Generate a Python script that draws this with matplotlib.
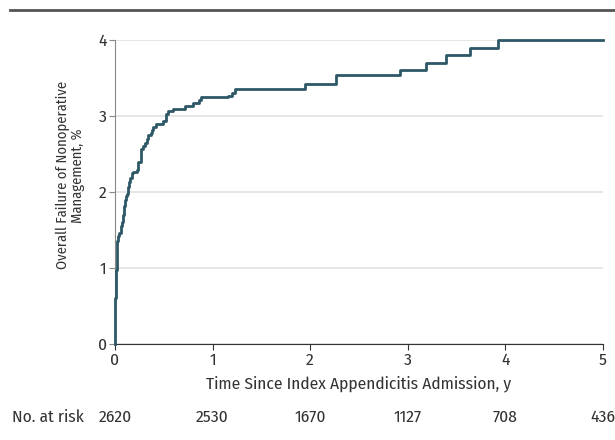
import numpy as np
import matplotlib
matplotlib.use("Agg")
import matplotlib.pyplot as plt
from matplotlib.lines import Line2D

plt.rcParams['font.family'] = ['Fira Sans Condensed', 'PT Sans Narrow',
                               'Roboto Condensed', 'Archivo Narrow',
                               'DejaVu Sans']

# step curve (years, %)
t = [0, 0.002, 0.010, 0.017, 0.024, 0.035, 0.044, 0.058, 0.065, 0.072, 0.080,
     0.085, 0.095, 0.102, 0.110, 0.120, 0.130, 0.137, 0.145, 0.154, 0.171,
     0.188, 0.222, 0.239, 0.263, 0.290, 0.307, 0.324, 0.342, 0.365, 0.380,
     0.393, 0.420, 0.495, 0.523, 0.546, 0.598, 0.717, 0.796, 0.864, 0.878,
     1.161, 1.195, 1.230, 1.947, 2.261, 2.920, 3.193, 3.398, 3.644, 3.928, 5.0]
fail = [0, 0.60, 0.97, 1.19, 1.35, 1.42, 1.46, 1.50, 1.56, 1.60, 1.66,
        1.70, 1.82, 1.90, 1.95, 1.98, 2.03, 2.07, 2.13, 2.18, 2.25,
        2.27, 2.29, 2.40, 2.57, 2.60, 2.65, 2.70, 2.75, 2.78, 2.82,
        2.85, 2.90, 2.93, 3.03, 3.07, 3.09, 3.13, 3.17, 3.21, 3.25,
        3.27, 3.30, 3.36, 3.42, 3.535, 3.61, 3.70, 3.80, 3.90, 4.0, 4.0]

risk_years = [0, 1, 2, 3, 4, 5]
at_risk = ["2620", "2530", "1670", "1127", "708", "436"]

LINE = "#2e5867"
TXT = "#333333"
FS = 12.5

fig = plt.figure(figsize=(6.15, 4.4), dpi=100)
ax = fig.add_axes([0.187, 0.218, 0.793, 0.691])

ax.step(t, fail, where="post", color=LINE, lw=2, zorder=3, clip_on=False)

ax.set_xlim(0, 5)
ax.set_ylim(0, 4)
ax.set_xticks(range(6))
ax.set_yticks(range(5))
ax.yaxis.grid(True, color="#e2e2e2", lw=1.2)
ax.set_axisbelow(True)
for s in ("top", "right"):
    ax.spines[s].set_visible(False)
ax.spines["left"].set_color("#888888")
ax.spines["bottom"].set_color("#333333")
ax.tick_params(axis="both", direction="out", length=4, labelsize=FS,
               labelcolor=TXT, pad=2)
ax.tick_params(axis="y", color="#888888")
ax.tick_params(axis="x", color="#333333")

ax.set_xlabel("Time Since Index Appendicitis Admission, y", fontsize=FS,
              color=TXT, labelpad=5)
ax.set_ylabel("Overall Failure of Nonoperative\nManagement, %", fontsize=10.5,
              color=TXT, linespacing=1.05)
ax.yaxis.set_label_coords(-0.062, 0.555)

tr = ax.get_xaxis_transform()
for x, n in zip(risk_years, at_risk):
    ax.text(x, -0.24, n, transform=tr, ha="center", va="center",
            fontsize=FS, color=TXT, clip_on=False)
fig.text(12 / 615, 1 - 417 / 440, "No. at risk", ha="left", va="center",
         fontsize=FS, color=TXT)

# rule at the top of the panel
fig.add_artist(Line2D([10 / 615, 1], [1 - 10 / 440] * 2, color="#555555",
                      lw=2, transform=fig.transFigure))

fig.savefig("out.png", dpi=100)
